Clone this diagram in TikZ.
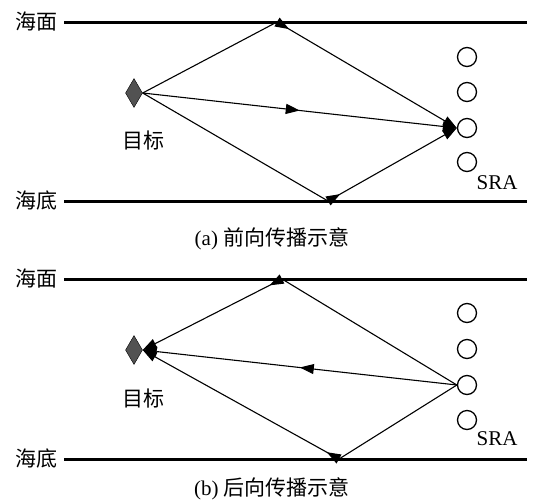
\documentclass[tikz,border=0pt]{standalone}
\usepackage{fontspec}
\setmainfont{Liberation Serif}
\newfontfamily\cjk{Noto Sans CJK SC}
\usetikzlibrary{shapes.geometric,arrows.meta,decorations.markings}

\begin{document}
\begin{tikzpicture}[x=1pt,y=-1pt,
		every node/.style={font=\fontsize{21}{25}\selectfont},
		sea/.style={line width=3pt},
		target/.style={diamond,draw,fill=black!68,minimum width=17pt,minimum height=29pt,inner sep=0pt},
		sensor/.style={circle,draw,line width=1.3pt,minimum size=19pt,inner sep=0pt},
		ray/.style={line width=1.1pt},
		tiphead/.style={-{Triangle[length=14pt,width=10pt]}},
		kick/.style={postaction={decorate},decoration={markings,
				mark=at position 14pt with {\arrow{Triangle[length=14pt,width=10pt]}}}},
		midarrow/.style={postaction={decorate},decoration={markings,
				mark=at position 0.5 with {\arrow{Triangle[length=14pt,width=10pt]}}}}]
		\useasboundingbox (0,0) rectangle (543,501);
		% (a) forward
		\draw[sea] (64,22) -- (527,22);
		\draw[sea] (64,201) -- (527,201);
		\node (sfa) at (36,22) {\cjk 海面};
		\node (bda) at (36,201) {\cjk 海底};
		\node[target] (tga) at (134,93) {};
		\node (tla) at (143,141) {\cjk 目标};
		\foreach \i/\y in {1/57,2/92,3/128,4/162}
			\node[sensor] (ca\i) at (467,\y) {};
		\node (sra) at (497,183) {SRA};
		\coordinate (ta) at (277,22);
		\coordinate (ba) at (328,201);
		\draw[ray] (tga.east) -- (ta);
		\draw[ray,tiphead,kick] (ta) -- (ca3.west);
		\draw[ray] (tga.east) -- (ba);
		\draw[ray,tiphead,kick] (ba) -- (ca3.west);
		\draw[ray,tiphead,midarrow] (tga.east) -- (ca3.west);
		\node (capa) at (272,239) {(a) {\cjk 前向传播示意}};
		% (b) backward
		\draw[sea] (64,279) -- (527,279);
		\draw[sea] (64,459) -- (527,459);
		\node (sfb) at (36,279) {\cjk 海面};
		\node (bdb) at (36,459) {\cjk 海底};
		\node[target] (tgb) at (134,350) {};
		\node (tlb) at (143,399) {\cjk 目标};
		\foreach \i/\y in {1/313,2/349,3/385,4/420}
			\node[sensor] (cb\i) at (467,\y) {};
		\node (srb) at (497,439) {SRA};
		\coordinate (tb) at (282,279);
		\coordinate (bb) at (339,459);
		\draw[ray] (cb3.west) -- (tb);
		\draw[ray,tiphead,kick] (tb) -- (tgb.east);
		\draw[ray] (cb3.west) -- (bb);
		\draw[ray,tiphead,kick] (bb) -- (tgb.east);
		\draw[ray,tiphead,midarrow] (cb3.west) -- (tgb.east);
		\node (capb) at (272,489) {(b) {\cjk 后向传播示意}};
	\end{tikzpicture}
\end{document}
